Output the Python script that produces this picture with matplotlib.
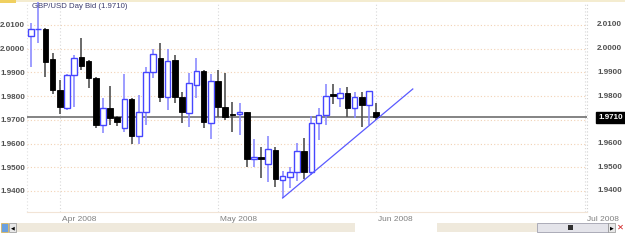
import matplotlib
matplotlib.use("Agg")
import matplotlib.pyplot as plt
from matplotlib.patches import Rectangle
import numpy as np
import pandas as pd

# GBP/USD daily bars, 26 Mar 2008 .. 2 Jun 2008 (weekdays)
dates = pd.bdate_range("2008-03-26", "2008-06-02")
opens = [2.0054, 2.0081, 2.0083, 1.9957, 1.9826, 1.9750, 1.9889, 1.9965, 1.9948, 1.9876,
         1.9678, 1.9750, 1.9712, 1.9666, 1.9788, 1.9632, 1.9733, 1.9902, 1.9961, 1.9796,
         1.9952, 1.9796, 1.9729, 1.9847, 1.9906, 1.9687, 1.9864, 1.9754, 1.9725, 1.9725,
         1.9733, 1.9535, 1.9543, 1.9514, 1.9573, 1.9446, 1.9459, 1.9480, 1.9569, 1.9480,
         1.9687, 1.9720, 1.9809, 1.9792, 1.9813, 1.9750, 1.9796, 1.9763, 1.9733]
highs = [2.0108, 2.0200, 2.0087, 1.9982, 1.9868, 1.9893, 1.9973, 2.0045, 1.9952, 1.9880,
         1.9792, 1.9843, 1.9716, 1.9893, 1.9790, 1.9805, 1.9923, 1.9999, 2.0024, 1.9999,
         1.9973, 1.9817, 1.9898, 1.9961, 1.9910, 1.9893, 1.9910, 1.9898, 1.9775, 1.9771,
         1.9735, 1.9619, 1.9585, 1.9632, 1.9585, 1.9485, 1.9501, 1.9602, 1.9623, 1.9716,
         1.9750, 1.9851, 1.9851, 1.9834, 1.9839, 1.9817, 1.9817, 1.9822, 1.9771]
lows = [1.9923, 2.0024, 1.9881, 1.9809, 1.9725, 1.9741, 1.9754, 1.9910, 1.9834, 1.9666,
        1.9644, 1.9678, 1.9674, 1.9649, 1.9598, 1.9598, 1.9678, 1.9876, 1.9775, 1.9741,
        1.9771, 1.9687, 1.9670, 1.9792, 1.9666, 1.9619, 1.9712, 1.9699, 1.9649, 1.9636,
        1.9501, 1.9501, 1.9455, 1.9438, 1.9417, 1.9370, 1.9413, 1.9442, 1.9450, 1.9467,
        1.9615, 1.9678, 1.9767, 1.9754, 1.9712, 1.9708, 1.9670, 1.9678, 1.9699]
closes = [2.0083, 2.0083, 1.9944, 1.9826, 1.9754, 1.9889, 1.9961, 1.9927, 1.9876, 1.9678,
          1.9750, 1.9708, 1.9691, 1.9788, 1.9632, 1.9733, 1.9902, 1.9978, 1.9796, 1.9948,
          1.9796, 1.9733, 1.9855, 1.9906, 1.9691, 1.9864, 1.9754, 1.9712, 1.9720, 1.9733,
          1.9535, 1.9543, 1.9535, 1.9577, 1.9450, 1.9463, 1.9480, 1.9569, 1.9480, 1.9687,
          1.9720, 1.9801, 1.9801, 1.9813, 1.9750, 1.9796, 1.9763, 1.9822, 1.9710]

last_bid = 1.9710
yticks = [1.94, 1.95, 1.96, 1.97, 1.98, 1.99, 2.00, 2.01]
months = ["2008-04-01", "2008-05-01", "2008-06-02", "2008-07-01"]
month_labels = ["Apr 2008", "May 2008", "Jun 2008", "Jul 2008"]
# trend line drawn by the user: from the May low to the right
trend_start = ("2008-05-14", 1.9370)
trend_end_price = 1.9830
trend_end_idx = 53.1

UP_EDGE = "#4646ff"
UP_WICK = "#8c8cff"
DOWN = "#000000"
DOWN_WICK = "#505050"
GRID_H = "#f2d2b4"
TXT = "#505050"
NARROW = ["Liberation Sans Narrow", "Liberation Sans", "DejaVu Sans"]

plt.rcParams["font.family"] = ["Liberation Sans", "DejaVu Sans"]

fig = plt.figure(figsize=(6.25, 2.42), dpi=100)
fig.patch.set_facecolor("white")
ax = fig.add_axes([27 / 625, 1 - 212 / 242, 560 / 625, 210 / 242])
ax.set_facecolor("white")

n = len(dates)
x = np.arange(n)
o = np.array(opens)
h = np.array(highs)
l = np.array(lows)
c = np.array(closes)
up = c >= o


def pos(d):
    d = pd.Timestamp(d)
    if d <= dates[-1]:
        return float(dates.get_indexer([d], method="bfill")[0])
    # beyond the data the axis runs in calendar days
    return (n - 1) + (d - dates[-1]).days


# grid
for yv in yticks:
    ax.axhline(yv, color=GRID_H, lw=0.8, ls=(0, (1, 2)), zorder=0)
for m in months:
    ax.axvline(pos(m), color="#d8d8d8", lw=0.8, ls=(0, (1, 2)), zorder=0)

# wicks
ax.vlines(x[up], l[up], h[up], color=UP_WICK, lw=1.2, zorder=2)
ax.vlines(x[~up], l[~up], h[~up], color=DOWN_WICK, lw=1.2, zorder=2)

# bodies
w = 0.78
bh = np.abs(c - o)
ax.bar(x[up], np.maximum(bh[up], 0.00005), w, bottom=o[up], facecolor="white",
       edgecolor=UP_EDGE, lw=1.0, zorder=3)
ax.bar(x[~up], np.maximum(bh[~up], 0.0002), w, bottom=c[~up], facecolor=DOWN,
       edgecolor=DOWN, lw=0.6, zorder=3)

# last price line
ax.axhline(last_bid, color="#7a7a7a", lw=1.3, zorder=1)

# trend line
ax.plot([pos(trend_start[0]), trend_end_idx], [trend_start[1], trend_end_price],
        color="#5a5aff", lw=0.9, zorder=4)

ax.set_xlim(-0.556, 77.33)
ax.set_ylim(1.9311, 2.0197)

for s in ax.spines.values():
    s.set_visible(False)
ax.plot([1, 1], [0, 1], transform=ax.transAxes, color="#d0d0d0", lw=0.8,
        ls=(0, (1, 2)), clip_on=False)
ax.plot([0, 0], [0, 1], transform=ax.transAxes, color="#e0e0e0", lw=0.8,
        ls=(0, (1, 2)), clip_on=False)
ax.plot([0, 1], [0, 0], transform=ax.transAxes, color="#f2e4d6", lw=0.8,
        clip_on=False)

# y labels: left through the ticks, right as texts
ax.set_yticks(yticks)
ax.set_yticklabels(["%.4f" % v for v in yticks], fontsize=5.8, color=TXT,
                   fontweight="bold", family=NARROW)
ax.tick_params(axis="y", length=0, pad=1.5)
ytr = ax.get_yaxis_transform()
for v in yticks:
    if abs(v - last_bid) < 0.002:
        continue
    ax.text(1 + 10 / 560, v, "%.4f" % v, transform=ytr, ha="left", va="center",
            fontsize=5.8, color=TXT, fontweight="bold", family=NARROW)

ax.set_xticks([])
for m, lab in zip(months, month_labels):
    ax.text(pos(m) + 0.3, -0.018, lab, transform=ax.get_xaxis_transform(),
            ha="left", va="top", fontsize=6, color="#808080", family=NARROW)

# header
ax.text(0.009, 0.995, "GBP/USD Day Bid (1.9710)", transform=ax.transAxes,
        ha="left", va="top", fontsize=5.6, color="#3c3c6e", family=NARROW)

# last price box on the right
ax.text(1 + 11 / 560, last_bid, "1.9710", transform=ytr,
        ha="left", va="center", fontsize=5.8, color="white", fontweight="bold",
        family=NARROW,
        bbox=dict(boxstyle="square,pad=0.3", fc="black", ec="black"))

# top border
fig.add_artist(Rectangle((0, 1 - 2 / 242), 1, 2 / 242, transform=fig.transFigure,
                         fc="#f4ecd0", ec="none"))
fig.add_artist(Rectangle((0, 1 - 3 / 242), 16 / 625, 3 / 242, transform=fig.transFigure,
                         fc="#f0d060", ec="none"))

# scroll bar
by0, bh_ = 1 - 232 / 242, 9 / 242
for x0, x1 in [(16, 355), (437, 537)]:
    fig.add_artist(Rectangle((x0 / 625, by0), (x1 - x0) / 625, bh_,
                             transform=fig.transFigure, fc="#efe9dc", ec="none",
                             hatch="....", lw=0))
fig.add_artist(Rectangle((1 / 625, by0), 7 / 625, bh_, transform=fig.transFigure,
                         fc="#6aa0e0", ec="#e0b040", lw=0.5))
fig.add_artist(Rectangle((9 / 625, by0), 7 / 625, bh_, transform=fig.transFigure,
                         fc="#e8e8e8", ec="#909090", lw=0.5))
fig.text(12.5 / 625, by0 + bh_ / 2, "\u25c0", fontsize=3.5, ha="center", va="center",
         color="black", family="DejaVu Sans")
fig.add_artist(Rectangle((537 / 625, by0), 71 / 625, bh_, transform=fig.transFigure,
                         fc="#e4e4ea", ec="#9090a0", lw=0.5))
fig.add_artist(Rectangle((568 / 625, by0 + 2 / 242), 5 / 625, 5 / 242,
                         transform=fig.transFigure, fc="#303030", ec="none"))
fig.add_artist(Rectangle((608 / 625, by0), 7 / 625, bh_, transform=fig.transFigure,
                         fc="#e8e8e8", ec="#909090", lw=0.5))
fig.text(611.5 / 625, by0 + bh_ / 2, "\u25b6", fontsize=3.5, ha="center", va="center",
         color="black", family="DejaVu Sans")
fig.text(620.5 / 625, by0 + bh_ / 2, "\u2715", fontsize=6, ha="center", va="center",
         color="#d02020", fontweight="bold", family="DejaVu Sans")

fig.savefig("out.png", dpi=100, facecolor=fig.get_facecolor())
